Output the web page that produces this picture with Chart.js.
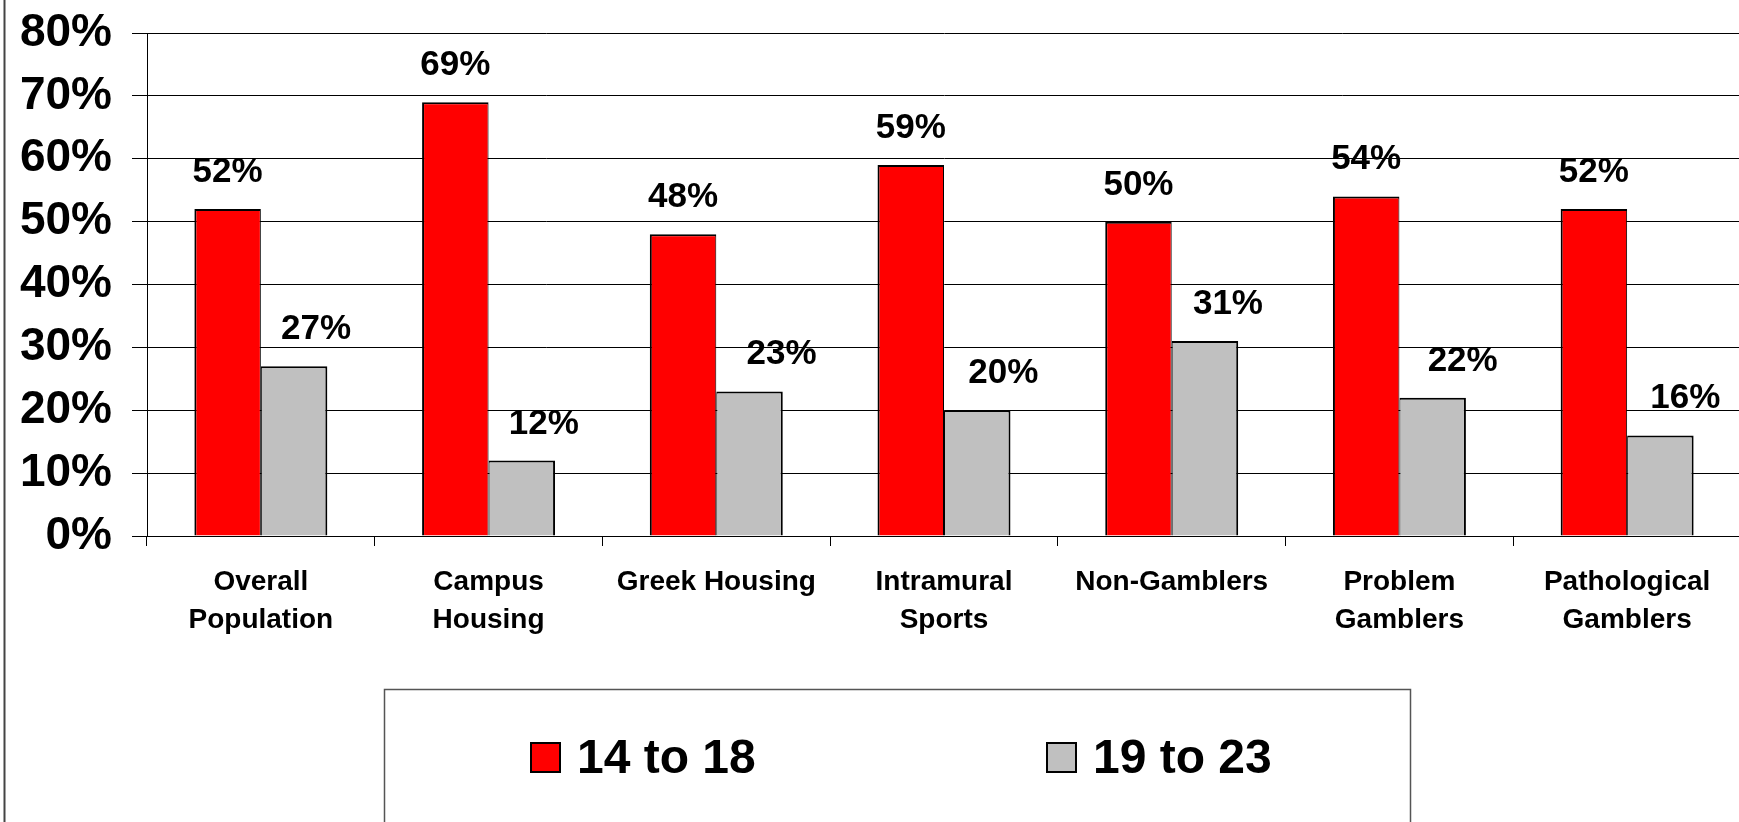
<!DOCTYPE html>
<html>
<head>
<meta charset="utf-8">
<title>Age groups by population</title>
<script src="https://cdn.jsdelivr.net/npm/chart.js@4.4.1/dist/chart.umd.min.js"></script>
<style>
  html, body { margin: 0; padding: 0; background: #fff; overflow: hidden; }
  #wrap { width: 1745px; height: 822px; }
</style>
</head>
<body>
<div id="wrap"><canvas id="ageChart" width="1745" height="822"></canvas></div>
<script>
// categories (multi-line labels are arrays)
const groups = [
  ["Overall", "Population"],
  ["Campus", "Housing"],
  "Greek Housing",
  ["Intramural", "Sports"],
  "Non-Gamblers",
  ["Problem", "Gamblers"],
  ["Pathological", "Gamblers"]
];

const seriesNames = ["14 to 18", "19 to 23"];

// percent of each group
const age14to18 = [52, 69, 48, 59, 50, 54, 52];
const age19to23 = [27, 12, 23, 20, 31, 22, 16];

const yTicks = [0, 10, 20, 30, 40, 50, 60, 70, 80];

// sideways nudge (px) for the value labels over the grey bars
const greyLabelShift = [22, 22, 32, 26, 23, 30, 25];

const FONT = "'Liberation Sans', Arial, sans-serif";

// value labels above each bar
const valueLabels = {
  id: "valueLabels",
  afterDatasetsDraw(chart) {
    const ctx = chart.ctx;
    ctx.save();
    ctx.font = "bold 35px " + FONT;
    ctx.fillStyle = "#000";
    ctx.textAlign = "center";
    ctx.textBaseline = "alphabetic";
    chart.data.datasets.forEach((ds, di) => {
      const meta = chart.getDatasetMeta(di);
      meta.data.forEach((bar, i) => {
        const shift = di === 1 ? greyLabelShift[i] : 0;
        ctx.fillText(ds.data[i] + "%", bar.x + shift, bar.y - 27);
      });
    });
    ctx.restore();
  }
};

// left frame edge and the boxed legend underneath
const frameAndLegend = {
  id: "frameAndLegend",
  afterDraw(chart) {
    const ctx = chart.ctx;
    ctx.save();

    ctx.strokeStyle = "#444";
    ctx.lineWidth = 2;
    ctx.beginPath();
    ctx.moveTo(4.5, 0);
    ctx.lineTo(4.5, chart.height);
    ctx.stroke();

    ctx.strokeStyle = "#555";
    ctx.lineWidth = 1.5;
    ctx.strokeRect(384.5, 689.5, 1026, 200);

    const itemX = [530, 1046];
    ctx.font = "bold 48px " + FONT;
    ctx.textAlign = "left";
    ctx.textBaseline = "alphabetic";
    chart.data.datasets.forEach((ds, di) => {
      const x = itemX[di];
      ctx.fillStyle = ds.backgroundColor;
      ctx.fillRect(x, 742, 31, 31);
      ctx.strokeStyle = "#000";
      ctx.lineWidth = 2;
      ctx.strokeRect(x + 1, 743, 29, 29);
      ctx.fillStyle = "#000";
      ctx.fillText(ds.label, x + 47, 773);
    });

    ctx.restore();
  }
};

new Chart(document.getElementById("ageChart"), {
  type: "bar",
  data: {
    labels: groups,
    datasets: [
      {
        label: seriesNames[0],
        data: age14to18,
        backgroundColor: "#FF0000",
        borderColor: "#000",
        borderWidth: { top: 2, left: 2, right: 1, bottom: 0 },
        borderSkipped: "start",
        categoryPercentage: 0.584,
        barPercentage: 1
      },
      {
        label: seriesNames[1],
        data: age19to23,
        backgroundColor: "#C0C0C0",
        borderColor: "#000",
        borderWidth: { top: 2, left: 1, right: 2, bottom: 0 },
        borderSkipped: "start",
        categoryPercentage: 0.584,
        barPercentage: 1
      }
    ]
  },
  options: {
    responsive: false,
    animation: false,
    devicePixelRatio: 1,
    layout: { padding: { top: 33, right: 4, left: 0, bottom: 0 } },
    plugins: {
      legend: { display: false },
      tooltip: { enabled: false }
    },
    scales: {
      x: {
        offset: true,
        grid: {
          offset: true,
          drawOnChartArea: false,
          drawTicks: true,
          tickLength: 10,
          color: "#000",
          lineWidth: 1
        },
        border: { display: true, color: "#000", width: 1 },
        ticks: {
          autoSkip: false,
          maxRotation: 0,
          minRotation: 0,
          padding: 17,
          color: "#000",
          font: { family: FONT, size: 28, weight: "bold", lineHeight: "38.5px" }
        },
        afterFit(scale) {
          scale.height = 286;
          scale.paddingLeft = 0;
          scale.paddingRight = 0;
        }
      },
      y: {
        min: yTicks[0],
        max: yTicks[yTicks.length - 1],
        afterBuildTicks(scale) {
          scale.ticks = yTicks.map(v => ({ value: v }));
        },
        grid: {
          color: "#000",
          lineWidth: 1,
          tickLength: 15
        },
        border: { display: true, color: "#000", width: 1 },
        ticks: {
          padding: 20,
          color: "#000",
          font: { family: FONT, size: 46, weight: "bold" },
          callback: v => v + "%"
        },
        afterFit(scale) {
          scale.width = 147;
          scale.paddingTop = 0;
          scale.paddingBottom = 0;
        }
      }
    }
  },
  plugins: [valueLabels, frameAndLegend]
});
</script>
</body>
</html>
